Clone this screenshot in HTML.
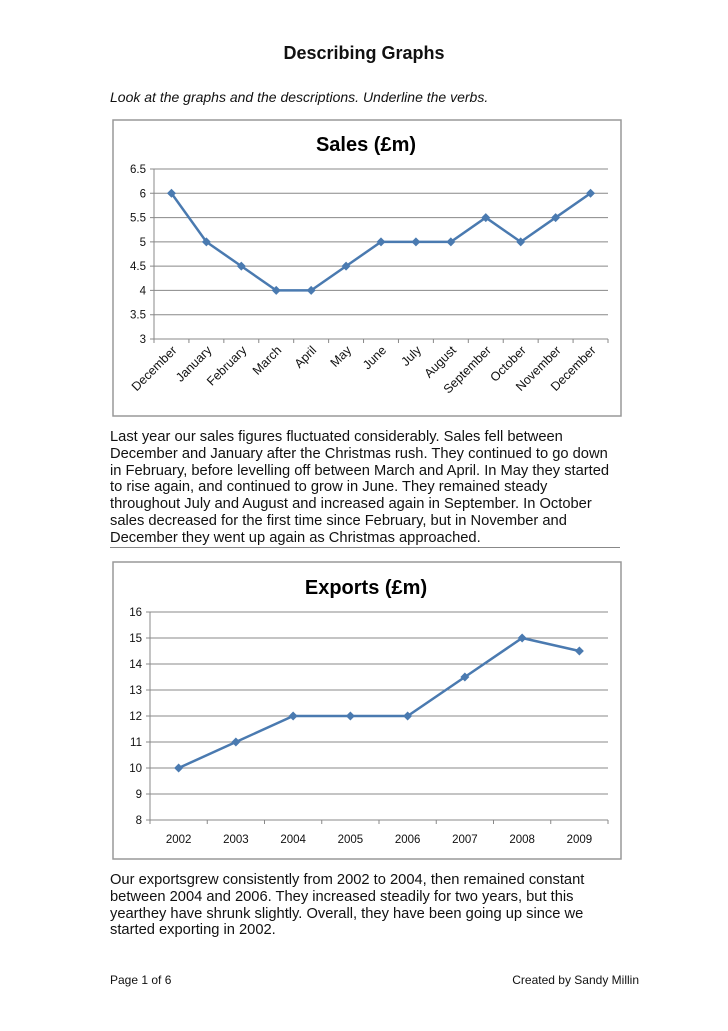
<!DOCTYPE html>
<html><head><meta charset="utf-8"><style>
body{margin:0;width:728px;height:1031px;background:#fff;font-family:"Liberation Sans",sans-serif;color:#111;position:relative;overflow:hidden}
.a{position:absolute;margin:0}
.p{font-size:14.7px;line-height:16.8px;left:110px;white-space:nowrap}
</style></head><body>
<div class="a" style="left:0;width:728px;top:43px;text-align:center;font-size:18px;font-weight:bold">Describing Graphs</div>
<div class="a" style="left:110px;top:89px;font-size:14px;font-style:italic">Look at the graphs and the descriptions. Underline the verbs.</div>
<svg class="a" style="left:0;top:0" width="728" height="1031" id="svg"></svg>
<div class="a p" style="top:429px">Last year our sales figures fluctuated considerably. Sales fell between<br>December and January after the Christmas rush. They continued to go down<br>in February, before levelling off between March and April. In May they started<br>to rise again, and continued to grow in June. They remained steady<br>throughout July and August and increased again in September. In October<br>sales decreased for the first time since February, but in November and<br>December they went up again as Christmas approached.</div>
<div class="a" style="left:110px;top:547px;width:510px;border-top:1px solid #888"></div>
<div class="a p" style="top:872px">Our exportsgrew consistently from 2002 to 2004, then remained constant<br>between 2004 and 2006. They increased steadily for two years, but this<br>yearthey have shrunk slightly. Overall, they have been going up since we<br>started exporting in 2002.</div>
<div class="a" style="left:110px;top:973px;font-size:12px">Page 1 of 6</div>
<div class="a" style="right:89px;top:973px;font-size:12px">Created by Sandy Millin</div>
<script>
const salesCats=["December","January","February","March","April","May","June","July","August","September","October","November","December"];
const salesVals=[6,5,4.5,4,4,4.5,5,5,5,5.5,5,5.5,6];
const salesTicks=[3,3.5,4,4.5,5,5.5,6,6.5];
const expCats=["2002","2003","2004","2005","2006","2007","2008","2009"];
const expVals=[10,11,12,12,12,13.5,15,14.5];
const expTicks=[8,9,10,11,12,13,14,15,16];
const NS="http://www.w3.org/2000/svg",svg=document.getElementById('svg');
function el(t,a,p){const e=document.createElementNS(NS,t);for(const k in a)e.setAttribute(k,a[k]);(p||svg).appendChild(e);return e;}
function chart(o){
 const g=el('g',{});
 
 
 el('rect',{x:o.bx,y:o.by,width:508,height:o.bh,fill:'#fff',stroke:'#999','stroke-width':1.5},g);
 const t=el('text',{x:366,y:o.ty,'text-anchor':'middle','font-size':20,'font-weight':'bold',fill:'#000'},g);t.textContent=o.title;
 const lo=o.ticks[0],hi=o.ticks[o.ticks.length-1];
 const Y=v=>o.y1-(v-lo)/(hi-lo)*(o.y1-o.y0);
 const w=(o.x1-o.x0)/o.cats.length,X=i=>o.x0+w*(i+0.5);
 o.ticks.forEach(v=>{
  const l=el('line',{x1:o.x0-4,x2:o.x1,y1:Y(v),y2:Y(v),stroke:'#888','stroke-width':1},g);
  
  const tx=el('text',{x:o.x0-8,y:Y(v)+4,'text-anchor':'end','font-size':11.5,fill:'#111'},g);tx.textContent=v;
  
 });
 el('line',{x1:o.x0,x2:o.x0,y1:o.y0,y2:o.y1,stroke:'#888'},g);
 for(let i=0;i<=o.cats.length;i++)el('line',{x1:o.x0+w*i,x2:o.x0+w*i,y1:o.y1,y2:o.y1+4,stroke:'#888'},g);
 o.cats.forEach((c,i)=>{
  let tx;
  if(o.rot){tx=el('text',{x:X(i)+6,y:o.y1+12,'text-anchor':'end','font-size':12.5,fill:'#111',transform:`rotate(-45 ${X(i)+6} ${o.y1+12})`},g);}
  else tx=el('text',{x:X(i),y:o.y1+23,'text-anchor':'middle','font-size':11.5,fill:'#111'},g);
  tx.textContent=c;
  
 });
 const pl=el('polyline',{points:o.vals.map((v,i)=>X(i)+','+Y(v)).join(' '),fill:'none',stroke:'#4a7ab0','stroke-width':2.5},g);
 
 o.vals.forEach((v,i)=>{
  const m=el('path',{d:`M${X(i)} ${Y(v)-4.5}L${X(i)+4.5} ${Y(v)}L${X(i)} ${Y(v)+4.5}L${X(i)-4.5} ${Y(v)}Z`,fill:'#4a7ab0'},g);
  
 });
}
chart({name:'sales-chart-plot',bx:113,by:120,bh:296,ty:151,title:'Sales (£m)',x0:154,x1:608,y0:169,y1:339,cats:salesCats,vals:salesVals,ticks:salesTicks,rot:true});
chart({name:'exports-chart-plot',bx:113,by:562,bh:297,ty:594,title:'Exports (£m)',x0:150,x1:608,y0:612,y1:820,cats:expCats,vals:expVals,ticks:expTicks,rot:false});
</script>
</body></html>
